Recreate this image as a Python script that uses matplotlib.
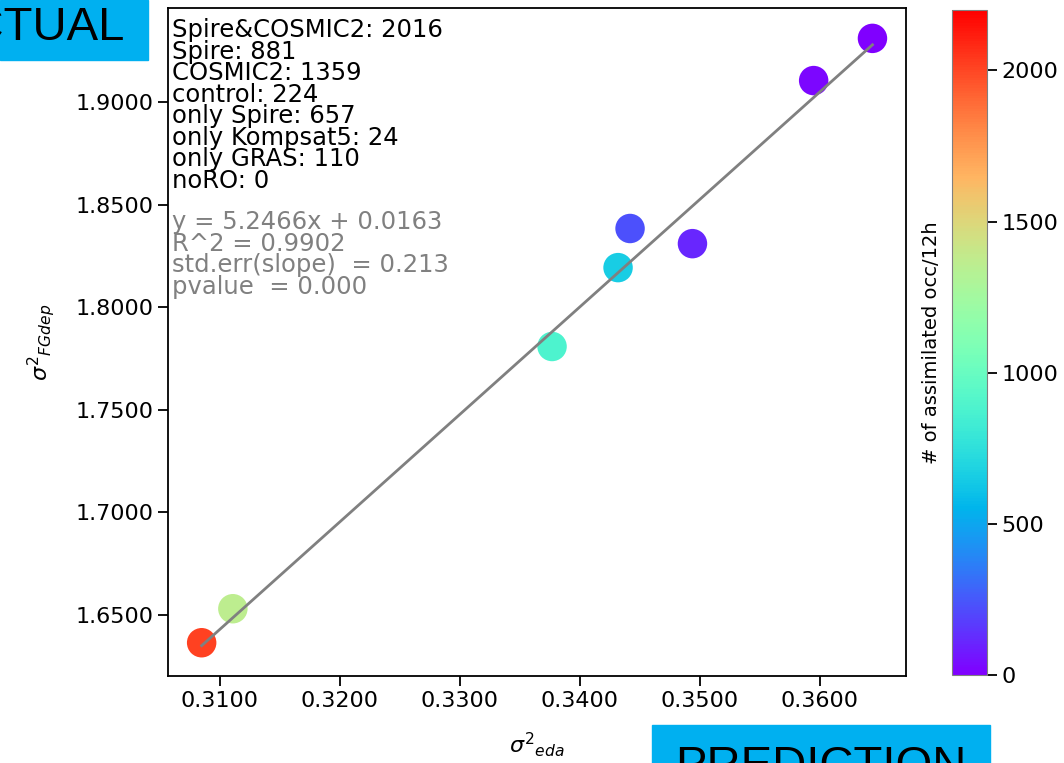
import numpy as np
import matplotlib
matplotlib.use("Agg")
import matplotlib.pyplot as plt
from matplotlib.patches import Rectangle

# data
sigma_eda = [0.3085, 0.3111, 0.3377, 0.3432, 0.3442, 0.3494, 0.3595, 0.3644]
sigma_fgdep = [1.6363, 1.6529, 1.7809, 1.8194, 1.8385, 1.8311, 1.9107, 1.9313]
n_occ = [2016, 1359, 881, 657, 224, 110, 24, 0]

exp_names = ["Spire&COSMIC2", "Spire", "COSMIC2", "control", "only Spire",
             "only Kompsat5", "only GRAS", "noRO"]
exp_counts = [2016, 881, 1359, 224, 657, 24, 110, 0]

slope, intercept = 5.2466, 0.0163
fit_lines = ["y = 5.2466x + 0.0163", "R^2 = 0.9902",
             "std.err(slope)  = 0.213", "pvalue  = 0.000"]

fig = plt.figure(figsize=(10.64, 7.63), dpi=100)
ax = fig.add_axes([0.158, 0.114, 0.6935, 0.8755])
cax = fig.add_axes([0.8947, 0.1153, 0.0329, 0.8716])

sc = ax.scatter(sigma_eda, sigma_fgdep, c=n_occ, cmap="rainbow", vmin=0, vmax=2200,
                s=450, edgecolors="none", zorder=2)
xs = np.array([min(sigma_eda), max(sigma_eda)])
ax.plot(xs, slope * xs + intercept, color="gray", lw=2, zorder=3)

ax.xaxis.set_major_formatter(matplotlib.ticker.FormatStrFormatter("%.4f"))
ax.yaxis.set_major_formatter(matplotlib.ticker.FormatStrFormatter("%.4f"))
ax.set_xticks([0.31, 0.32, 0.33, 0.34, 0.35, 0.36])
ax.set_yticks([1.65, 1.70, 1.75, 1.80, 1.85, 1.90])
ax.tick_params(labelsize=16, length=7, width=1.3)
for sp in ax.spines.values():
    sp.set_linewidth(1.3)
ax.set_xlabel(r"$\sigma^2{}_{eda}$", fontsize=16, labelpad=14)
ax.set_ylabel(r"$\sigma^2{}_{FGdep}$", fontsize=16, labelpad=13)

txt = "\n".join(f"{n}: {c}" for n, c in zip(exp_names, exp_counts))
ax.text(0.005, 0.985, txt, transform=ax.transAxes, fontsize=17.5, va="top",
        ha="left", linespacing=0.87)
ax.text(0.005, 0.697, "\n".join(fit_lines), transform=ax.transAxes, fontsize=17.5,
        va="top", ha="left", linespacing=0.87, color="gray")

cb = fig.colorbar(sc, cax=cax, ticks=[0, 500, 1000, 1500, 2000])
cb.ax.tick_params(labelsize=16, length=7, width=1.3)
cb.outline.set_edgecolor("gray")
cb.ax.yaxis.set_label_position("left")
cb.set_label("# of assimilated occ/12h", fontsize=14, labelpad=8)

# overlay boxes from the screenshot
fig.add_artist(Rectangle((0, 1 - 60 / 763), 148 / 1064, 60 / 763,
                         transform=fig.transFigure, color="#00B0F0", zorder=5))
fig.text(125 / 1064, 1 - 40 / 763, "ACTUAL", ha="right", va="baseline",
         fontsize=34, family="Liberation Sans", zorder=6)
fig.add_artist(Rectangle((652 / 1064, 0), 338 / 1064, 38 / 763,
                         transform=fig.transFigure, color="#00B0F0", zorder=5))
fig.text(675 / 1064, 1 - 745 / 763, "PREDICTION", ha="left", va="top",
         fontsize=34, family="Liberation Sans", zorder=6)

fig.savefig("out.png", dpi=100)
